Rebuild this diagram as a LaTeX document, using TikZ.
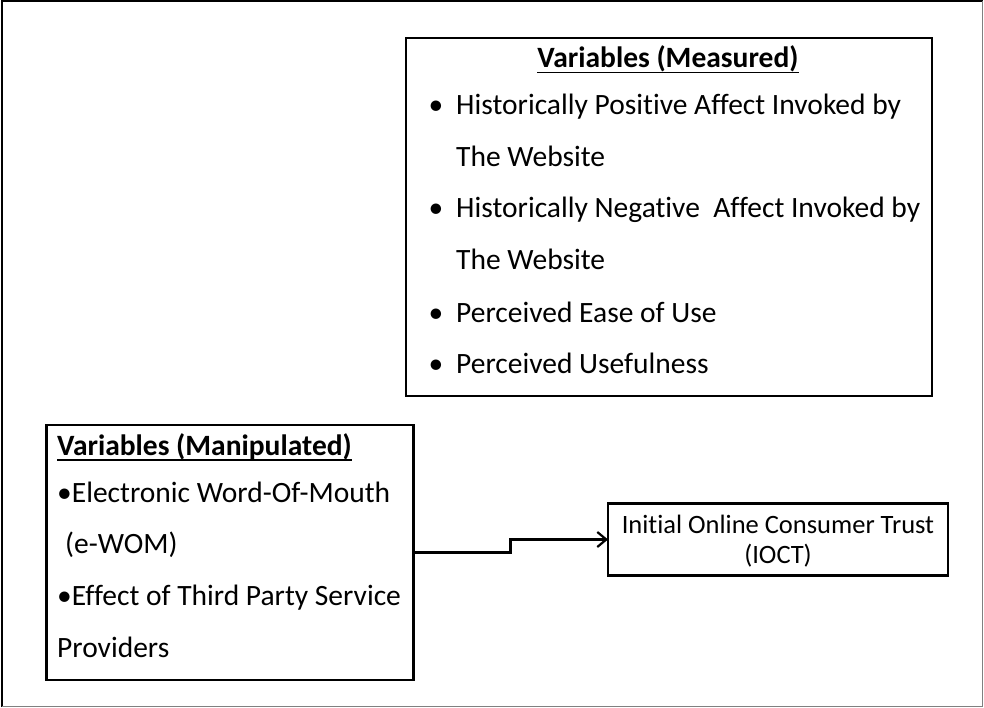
\documentclass[tikz,border=0pt]{standalone}
\usepackage{fontspec}
\setmainfont{Carlito}[Ligatures={NoCommon}]
\usetikzlibrary{arrows.meta}
\tikzset{
  box/.style={draw=black, line width=2.6pt, inner sep=0pt, outer sep=0pt, anchor=north west},
  txt/.style={inner sep=0pt, anchor=base west, font=\fontsize{29.5}{29.5}\selectfont},
  head/.style={inner sep=0pt, font=\fontsize{29.5}{29.5}\selectfont\bfseries},
  itxt/.style={inner sep=0pt, anchor=base, font=\fontsize{26.5}{26.5}\selectfont},
  uline/.style={line width=1.5pt},
  conn/.style={line width=2.2pt, -{Straight Barb[length=9pt,width=15pt,line width=2.2pt]}},
}
\begin{document}
\begin{tikzpicture}[x=1pt,y=-1pt]
\useasboundingbox (0,0) rectangle (984,708);
% outer frame
\draw[black, line width=2pt] (1.5,707) -- (1.5,1.5) -- (983,1.5);
\draw[gray, line width=1.5pt] (982.5,1.5) -- (982.5,706.5) -- (1.5,706.5);
% boxes
\node[box, minimum width=526pt, minimum height=358pt] (meas) at (406,38) {};
\node[box, minimum width=367pt, minimum height=255pt] (manip) at (46.5,425) {};
\node[box, minimum width=340pt, minimum height=72pt] (ioct) at (608,503.5) {};
% measured
\node[head, anchor=base] (mh) at (668,67.5) {Variables (Measured)};
\draw[uline] ([yshift=-5pt]mh.base west) -- ([yshift=-5pt]mh.base east);
\node[txt] (mb1) at (428.5,115) {\textbullet};
\node[txt] (m1) at (456,115) {Historically Positive Affect Invoked by};
\node[txt] (m2) at (456,167) {The Website};
\node[txt] (mb3) at (428.5,218) {\textbullet};
\node[txt] (m3) at (456,218) {Historically Negative\ \ Affect Invoked by};
\node[txt] (m4) at (456,270) {The Website};
\node[txt] (mb5) at (428.5,322) {\textbullet};
\node[txt] (m5) at (456,322) {Perceived Ease of Use};
\node[txt] (mb6) at (428.5,373) {\textbullet};
\node[txt] (m6) at (456,373) {Perceived Usefulness};
% manipulated
\node[head, anchor=base west] (ph) at (57,455) {Variables (Manipulated)};
\draw[uline] ([yshift=-5pt]ph.base west) -- ([yshift=-5pt]ph.base east);
\node[txt] (p1) at (57,502) {\textbullet Electronic Word-Of-Mouth};
\node[txt] (p2) at (65,553) {(e-WOM)};
\node[txt] (p3) at (57,605) {\textbullet Effect of Third Party Service};
\node[txt] (p4) at (57,657) {Providers};
% ioct
\node[itxt] (i1) at (778,533) {Initial Online Consumer Trust};
\node[itxt] (i2) at (778,563) {(IOCT)};
% connector
\coordinate (mid) at (510.5,0);
\draw[conn] (manip.east) -- (manip.east -| mid) |- (ioct.west);
\end{tikzpicture}
\end{document}
